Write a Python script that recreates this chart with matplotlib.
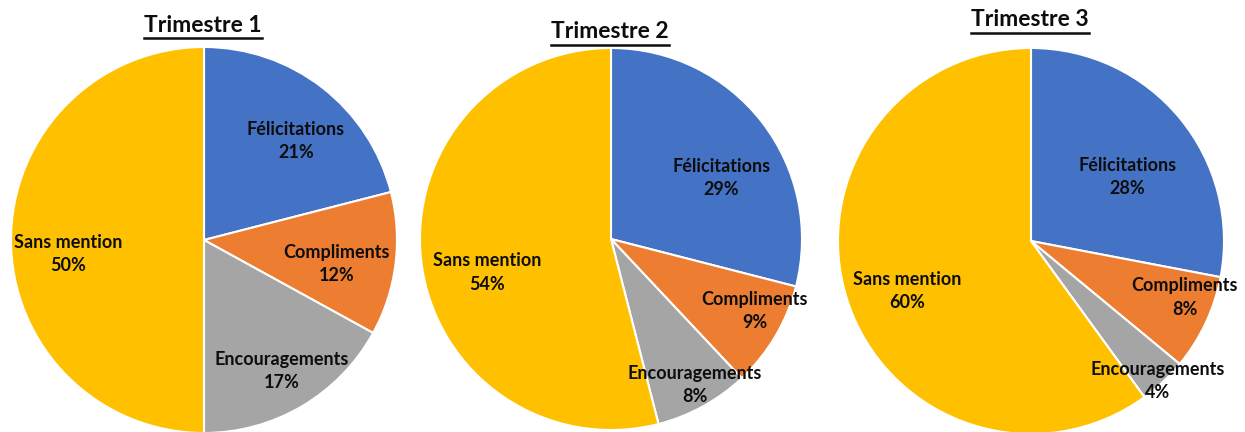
import matplotlib
matplotlib.use("Agg")
import matplotlib.pyplot as plt
import numpy as np

categories = ["Félicitations", "Compliments", "Encouragements", "Sans mention"]
titles = ["Trimestre 1", "Trimestre 2", "Trimestre 3"]
t1 = [21, 12, 17, 50]
t2 = [29, 9, 8, 54]
t3 = [28, 8, 4, 60]
series = [t1, t2, t3]

colors = ["#4472C4", "#ED7D31", "#A5A5A5", "#FFC000"]

W, H = 1245, 432
# layout: pie centres and radii in pixels
centres = [(204, 240, 193), (611, 239, 191), (1031, 241, 193)]
title_pos = [(203, 25), (610, 32), (1030, 20)]
# label placement: (distance fraction of radius, angle offset deg)
label_layout = [
    [(0.70, -5), (0.70, -3), (0.79, 0), (0.71, 6)],
    [(0.66, -9), (0.84, 4), (0.88, 1), (0.67, 8)],
    [(0.60, -6), (0.85, 5), (0.98, -1), (0.69, 4)],
]

plt.rcParams['font.family'] = ['Lato', 'DejaVu Sans']
fig = plt.figure(figsize=(W / 100, H / 100), dpi=100)

for i, (vals, (cx, cy, r)) in enumerate(zip(series, centres)):
    ax = fig.add_axes([(cx - r) / W, (H - cy - r) / H, 2 * r / W, 2 * r / H])
    wedges, _ = ax.pie(vals, colors=colors, startangle=90, counterclock=False,
                       radius=1, wedgeprops=dict(edgecolor="white", linewidth=1.5))
    ax.set_xlim(-1, 1)
    ax.set_ylim(-1, 1)
    ax.set_aspect("equal")
    ax.axis("off")
    for w in wedges:
        w.set_clip_on(False)
    for j, (w, v) in enumerate(zip(wedges, vals)):
        mid = (w.theta1 + w.theta2) / 2
        d, off = label_layout[i][j]
        a = np.deg2rad(mid + off)
        ax.text(d * np.cos(a), d * np.sin(a), f"{categories[j]}\n{v}%",
                ha="center", va="center", fontsize=13, fontweight="bold",
                color="#0d0d0d", linespacing=1.45, clip_on=False)

# titles with underline
fig.canvas.draw()
renderer = fig.canvas.get_renderer()
for (tx, ty), t in zip(title_pos, titles):
    txt = fig.text(tx / W, 1 - ty / H, t, ha="center", va="center",
                   fontsize=16.5, fontweight="bold", color="#0d0d0d")
    bb = txt.get_window_extent(renderer=renderer)
    y = (bb.y0 - 2) / H
    fig.add_artist(plt.Line2D([bb.x0 / W, bb.x1 / W], [y, y],
                              transform=fig.transFigure, color="#0d0d0d", linewidth=1.8))

fig.savefig("out.png", dpi=100, facecolor="white")
